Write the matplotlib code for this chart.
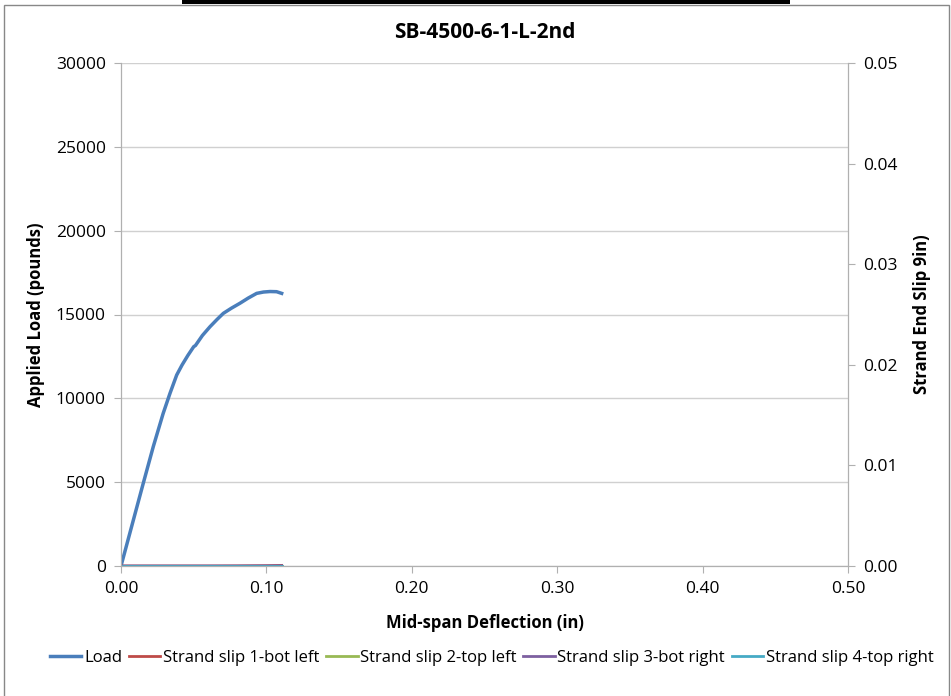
import matplotlib.pyplot as plt
from matplotlib.patches import Rectangle

plt.rcParams['font.family'] = ['Open Sans', 'DejaVu Sans']

# Load vs mid-span deflection
defl = [0.0, 0.0005, 0.0085, 0.0153, 0.0222, 0.0290, 0.0337, 0.0383, 0.0420, 0.0460,
        0.0500, 0.0512, 0.0560, 0.0612, 0.0660, 0.0704, 0.0760, 0.0818, 0.0875,
        0.0933, 0.0980, 0.1025, 0.1070, 0.1105]
load = [0, 160, 2740, 4930, 7120, 9100, 10300, 11390, 11990, 12560,
        13080, 13150, 13750, 14270, 14700, 15070, 15380, 15670, 15980,
        16260, 16340, 16370, 16360, 16260]

# strand slips (right axis), essentially zero
slip_x = [0.0, 0.02, 0.04, 0.06, 0.08, 0.10, 0.1105]
slip1 = [0.0, 0.0, 0.0, 0.0, 0.00001, 0.00003, 0.00006]
slip2 = [0.0, 0.0, 0.0, 0.0, 0.0, 0.0, 0.0]
slip3 = [0.0, 0.0, 0.0, 0.0, 0.0, 0.00001, 0.00002]
slip4 = [0.0, 0.0, 0.0, 0.0, 0.0, 0.0, 0.0]
slip_names = ['Strand slip 1-bot left', 'Strand slip 2-top left',
              'Strand slip 3-bot right', 'Strand slip 4-top right']
slip_colors = ['#be4b48', '#98b954', '#7d60a0', '#46aac5']

fig = plt.figure(figsize=(9.51, 6.96), dpi=100)
fig.patch.set_facecolor('white')
fig.add_artist(Rectangle((0.004, -0.01), 0.994, 1.003, transform=fig.transFigure,
                         fill=False, edgecolor='#888888', linewidth=1))
fig.add_artist(Rectangle((182 / 951, 1 - 4 / 696), 608 / 951, 4 / 696, transform=fig.transFigure,
                         color='black', linewidth=0))

ax = fig.add_axes([121 / 951, 1 - 566 / 696, 727 / 951, 503 / 696])
ax2 = ax.twinx()

ax.plot(defl, load, color='#4a7ebb', lw=2.5, label='Load', zorder=3)
for ys, nm, c in zip([slip1, slip2, slip3, slip4], slip_names, slip_colors):
    ax2.plot(slip_x, ys, color=c, lw=2, label=nm)

ax.set_xlim(0, 0.5)
ax.set_ylim(0, 30000)
ax2.set_ylim(0, 0.05)
ax.set_xticks([0, 0.1, 0.2, 0.3, 0.4, 0.5])
ax.set_xticklabels(['0.00', '0.10', '0.20', '0.30', '0.40', '0.50'])
ax.set_yticks(range(0, 30001, 5000))
ax2.set_yticks([0, 0.01, 0.02, 0.03, 0.04, 0.05])
ax2.set_yticklabels(['0.00', '0.01', '0.02', '0.03', '0.04', '0.05'])

ax.grid(axis='y', color='#d0d0d0', lw=1)
ax.set_axisbelow(True)
for a in (ax, ax2):
    for s in a.spines.values():
        s.set_color('#b0b0b0')
    a.spines['top'].set_visible(False)
    a.tick_params(colors='#b0b0b0', labelcolor='black', labelsize=12.5, length=5)
ax.tick_params(axis='y', pad=6)
ax2.tick_params(axis='y', pad=6)
ax.tick_params(axis='x', pad=6)

ax.set_xlabel('Mid-span Deflection (in)', fontsize=12, fontweight='bold', labelpad=12)
ax.set_ylabel('Applied Load (pounds)', fontsize=12, fontweight='bold', labelpad=8)
ax2.set_ylabel('Strand End Slip 9in)', fontsize=12, fontweight='bold', labelpad=11)
ax.set_title('SB-4500-6-1-L-2nd', fontsize=15, fontweight='bold', pad=18)

h1, l1 = ax.get_legend_handles_labels()
h2, l2 = ax2.get_legend_handles_labels()
fig.legend(h1 + h2, l1 + l2, loc='center', bbox_to_anchor=(0.517, 1 - 658 / 696), ncol=5,
           frameon=False, fontsize=12, handlelength=1.9, handletextpad=0.15, columnspacing=0.4)

fig.savefig('out.png', dpi=100)
